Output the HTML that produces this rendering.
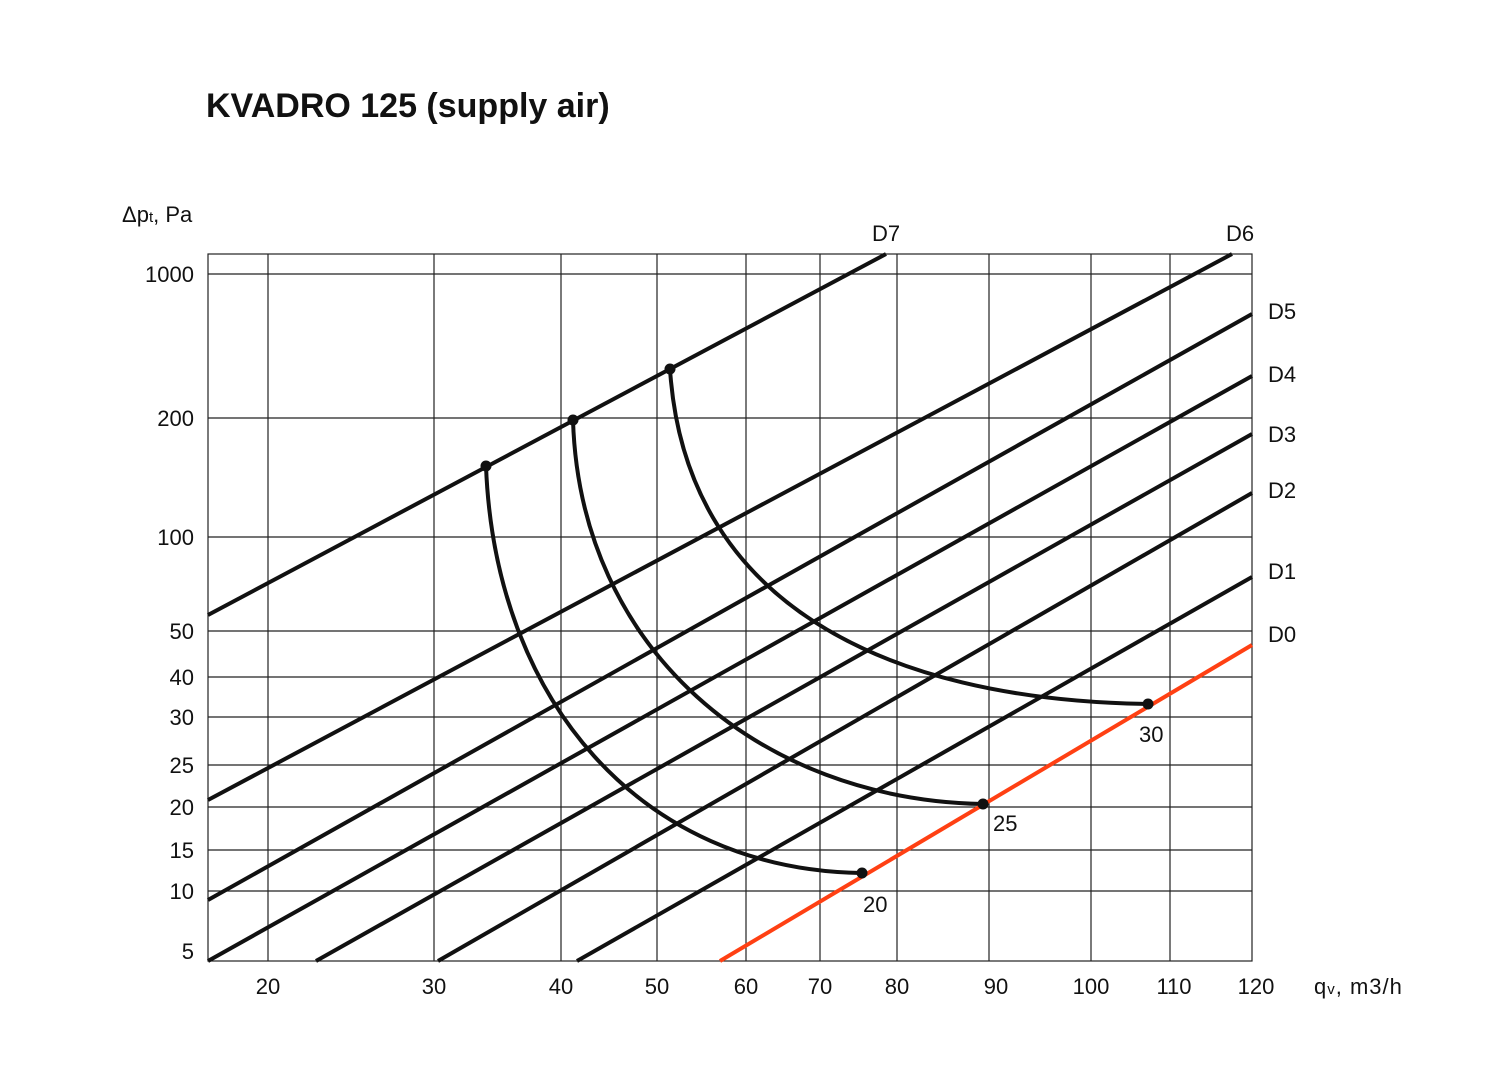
<!DOCTYPE html>
<html><head><meta charset="utf-8"><style>
html,body{margin:0;padding:0;background:#fff;}
svg{display:block;}
text{font-family:"Liberation Sans",sans-serif;fill:#111;}
</style></head><body>
<svg width="1500" height="1078" viewBox="0 0 1500 1078" xmlns="http://www.w3.org/2000/svg">
<text x="206" y="117" font-size="34" font-weight="bold">KVADRO 125 (supply air)</text>
<g stroke="#222" stroke-width="1.2" fill="none">
<rect x="208" y="254" width="1044" height="707"/>
<line x1="268" y1="254" x2="268" y2="961"/>
<line x1="434" y1="254" x2="434" y2="961"/>
<line x1="561" y1="254" x2="561" y2="961"/>
<line x1="657" y1="254" x2="657" y2="961"/>
<line x1="746" y1="254" x2="746" y2="961"/>
<line x1="820" y1="254" x2="820" y2="961"/>
<line x1="897" y1="254" x2="897" y2="961"/>
<line x1="989" y1="254" x2="989" y2="961"/>
<line x1="1091" y1="254" x2="1091" y2="961"/>
<line x1="1170" y1="254" x2="1170" y2="961"/>
<line x1="208" y1="274" x2="1252" y2="274"/>
<line x1="208" y1="418" x2="1252" y2="418"/>
<line x1="208" y1="537" x2="1252" y2="537"/>
<line x1="208" y1="631" x2="1252" y2="631"/>
<line x1="208" y1="677" x2="1252" y2="677"/>
<line x1="208" y1="717" x2="1252" y2="717"/>
<line x1="208" y1="765" x2="1252" y2="765"/>
<line x1="208" y1="807" x2="1252" y2="807"/>
<line x1="208" y1="850" x2="1252" y2="850"/>
<line x1="208" y1="891" x2="1252" y2="891"/>
</g>
<g stroke="#111" stroke-width="4" fill="none">
<line x1="208" y1="615" x2="886" y2="254"/>
<line x1="208" y1="800" x2="1232" y2="254"/>
<line x1="208" y1="900" x2="1252" y2="314"/>
<line x1="208" y1="961" x2="1252" y2="376"/>
<line x1="316" y1="961" x2="1252" y2="434"/>
<line x1="438" y1="961" x2="1252" y2="493"/>
<line x1="577" y1="961" x2="1252" y2="577"/>
<path d="M486,466 C495,700 640,870 862,873"/>
<path d="M573,420 C580,650 760,800 983,804"/>
<path d="M670,369 C685,600 880,700 1148,704"/>
</g>
<line x1="720" y1="961" x2="1252" y2="645" stroke="#ff4013" stroke-width="4"/>
<g fill="#111">
<circle cx="486" cy="466" r="5.5"/><circle cx="573" cy="420" r="5.5"/><circle cx="670" cy="369" r="5.5"/>
<circle cx="862" cy="873" r="5.5"/><circle cx="983" cy="804" r="5.5"/><circle cx="1148" cy="704" r="5.5"/>
</g>
<g font-size="22">
<text x="122" y="222">Δp<tspan font-size="15">t</tspan>, Pa</text>
<g text-anchor="end">
<text x="194" y="282">1000</text><text x="194" y="426">200</text><text x="194" y="545">100</text>
<text x="194" y="639">50</text><text x="194" y="685">40</text><text x="194" y="725">30</text>
<text x="194" y="773">25</text><text x="194" y="815">20</text><text x="194" y="858">15</text>
<text x="194" y="899">10</text><text x="194" y="959">5</text>
</g>
<g text-anchor="middle">
<text x="268" y="994">20</text><text x="434" y="994">30</text><text x="561" y="994">40</text>
<text x="657" y="994">50</text><text x="746" y="994">60</text><text x="820" y="994">70</text>
<text x="897" y="994">80</text><text x="996" y="994">90</text><text x="1091" y="994">100</text>
<text x="1174" y="994">110</text><text x="1256" y="994">120</text>
</g>
<text x="1314" y="994" letter-spacing="1">q<tspan font-size="15">v</tspan>, m3/h</text>
<text x="872" y="241">D7</text><text x="1226" y="241">D6</text>
<text x="1268" y="319">D5</text><text x="1268" y="382">D4</text><text x="1268" y="442">D3</text>
<text x="1268" y="498">D2</text><text x="1268" y="579">D1</text><text x="1268" y="642">D0</text>
<text x="863" y="912">20</text><text x="993" y="831">25</text><text x="1139" y="742">30</text>
</g>
</svg>
</body></html>
